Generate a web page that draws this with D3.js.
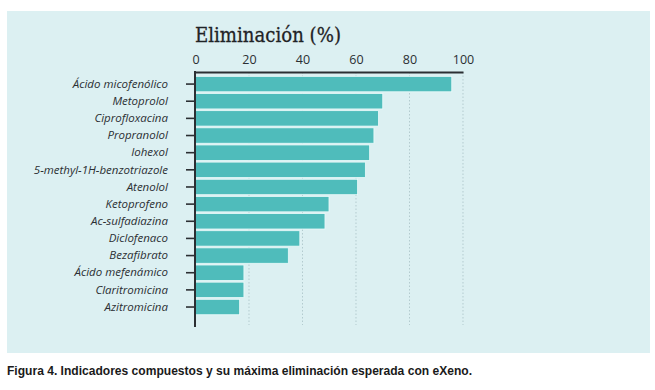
<!DOCTYPE html>
<html>
<head>
<meta charset="utf-8">
<script src="https://cdn.jsdelivr.net/npm/d3@7"></script>
<style>
  body { margin: 0; background: #fff; }
  svg { display: block; }
</style>
</head>
<body>
<svg width="655" height="390"></svg>
<script>
// compuestos y su eliminación (%)
var compuestos = ["Ácido micofenólico", "Metoprolol", "Ciprofloxacina", "Propranolol", "Iohexol",
    "5-methyl-1H-benzotriazole", "Atenolol", "Ketoprofeno", "Ac-sulfadiazina", "Diclofenaco",
    "Bezafibrato", "Ácido mefenámico", "Claritromicina", "Azitromicina"];
var eliminacion = [95.8, 70.0, 68.4, 66.7, 65.1, 63.5, 60.6, 49.9, 48.4, 39.0, 34.7, 18.1, 18.1, 16.5];
var ticks = [0, 20, 40, 60, 80, 100];

var data = compuestos.map(function(c, i) {
    return {name: c, value: eliminacion[i]};
});

var svg = d3.select("svg");

// fondo del panel
svg.append("rect")
    .attr("x", 7).attr("y", 11)
    .attr("width", 643).attr("height", 342)
    .attr("fill", "#dcf0f2");

var xScale = d3.scaleLinear()
    .domain([0, 100])
    .range([195.5, 463]);

var yScale = d3.scaleBand()
    .domain(compuestos)
    .range([75.5, 315.6])
    .paddingInner(0.1)
    .paddingOuter(0.05);

// líneas de la grilla
svg.append("g")
    .selectAll("line")
    .data(ticks.slice(1))
    .enter().append("line")
    .attr("x1", function(d) { return xScale(d); })
    .attr("x2", function(d) { return xScale(d); })
    .attr("y1", 72)
    .attr("y2", 325)
    .attr("stroke", "#b3cbcf")
    .attr("stroke-width", 1)
    .attr("stroke-dasharray", "1.5,2");

// barras
svg.append("g")
    .selectAll("rect")
    .data(data)
    .enter().append("rect")
    .attr("x", xScale(0))
    .attr("y", function(d) { return yScale(d.name); })
    .attr("width", function(d) { return xScale(d.value) - xScale(0); })
    .attr("height", yScale.bandwidth())
    .attr("fill", "#4fbcbb")
    .attr("stroke", "#eafafa")
    .attr("stroke-width", 0.8);

// eje superior
var xAxis = svg.append("g")
    .attr("transform", "translate(0,72)")
    .call(d3.axisTop(xScale).tickValues(ticks).tickSize(0).tickPadding(8));
xAxis.select(".domain").attr("stroke", "#2b2f33").attr("stroke-width", 2);
xAxis.selectAll("text")
    .style("font-family", "'Open Sans', sans-serif")
    .style("font-size", "12.5px")
    .attr("fill", "#2b2f33");

// eje izquierdo
var yAxis = svg.append("g")
    .attr("transform", "translate(195,0)")
    .call(d3.axisLeft(yScale).tickSize(9).tickSizeOuter(0).tickPadding(18));
yAxis.select(".domain").remove();
yAxis.append("line")
    .attr("x1", 0).attr("x2", 0)
    .attr("y1", 71).attr("y2", 327)
    .attr("stroke", "#2b2f33")
    .attr("stroke-width", 2);
yAxis.selectAll(".tick line").attr("stroke", "#2b2f33").attr("stroke-width", 1.6);
yAxis.selectAll("text")
    .style("font-family", "'Open Sans', sans-serif")
    .style("font-style", "italic")
    .style("font-size", "11.5px")
    .attr("fill", "#2b2f33");

// título
svg.append("text")
    .attr("x", 195)
    .attr("y", 42)
    .attr("textLength", 146)
    .attr("lengthAdjust", "spacingAndGlyphs")
    .style("font-family", "'DejaVu Serif', serif")
    .style("font-size", "20.5px")
    .style("stroke", "#1f2326")
    .style("stroke-width", 0.3)
    .attr("fill", "#1f2326")
    .text("Eliminación (%)");

// pie de figura
svg.append("text")
    .attr("x", 7)
    .attr("y", 375)
    .attr("textLength", 465)
    .attr("lengthAdjust", "spacingAndGlyphs")
    .style("font-family", "'Liberation Sans', Arial, sans-serif")
    .style("font-weight", "bold")
    .style("font-size", "12px")
    .attr("fill", "#1a1a1a")
    .text("Figura 4. Indicadores compuestos y su máxima eliminación esperada con eXeno.");
</script>
</body>
</html>
